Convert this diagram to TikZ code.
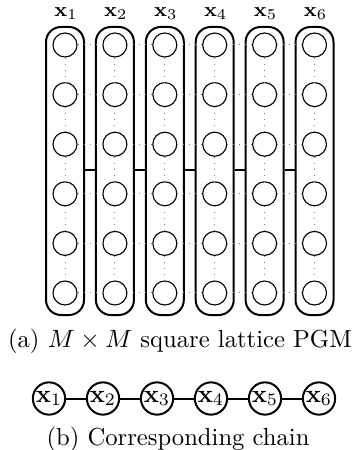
\documentclass[tikz,border=0pt]{standalone}
\begin{document}
\begin{tikzpicture}[x=0.4pt,y=-0.4pt,
  var/.style={circle,draw,line width=0.45pt,minimum size=9.6pt,inner sep=0pt},
  gridline/.style={gray,dotted,line width=0.4pt},
  colbox/.style={draw,line width=0.8pt,rounded corners=6pt,minimum width=15.2pt,minimum height=115.2pt,inner sep=0pt},
  link/.style={line width=0.8pt},
  lbl/.style={anchor=base,font=\fontsize{8}{9.6}\selectfont,inner sep=0pt},
  cvar/.style={circle,draw,line width=0.8pt,minimum size=11.2pt,inner sep=0.3pt},
  captext/.style={anchor=base,inner sep=0pt,font=\fontsize{9.85}{12}\selectfont}]
\useasboundingbox (0,0) rectangle (355,450);
% columns
\foreach \i in {1,...,6}{
  \node[colbox] (c\i) at ({65+(\i-1)*49.9},171) {};
  \node[lbl] (l\i) at ({66+(\i-1)*49.9},17) {$\mathbf{x}_{\i}$};
  \foreach \j in {1,...,6}{
    \node[var] (v\i\j) at ({65+(\i-1)*49.9},{45+(\j-1)*49.6}) {};
  }
}
% dotted grid
\foreach \i [evaluate=\i as \k using int(\i+1)] in {1,...,5}{
  \foreach \j in {1,...,6}{
    \draw[gridline] (v\i\j) -- (v\k\j);
    \draw[gridline] (v\j\i) -- (v\j\k);
  }
  \draw[link] ([yshift=0.4pt]c\i.east) -- ([yshift=0.4pt]c\k.west);
}
\node[captext] (capa) at (180,347) {(a) $M\times M$ square lattice PGM};
% chain
\foreach \i in {1,...,6}{
  \node[cvar] (h\i) at ({49+(\i-1)*54},398.5) {$\mathbf{x}_{\i}$};
}
\foreach \i [evaluate=\i as \k using int(\i+1)] in {1,...,5}{
  \draw[link] (h\i) -- (h\k);
}
\node[captext] (capb) at (178,445) {(b) Corresponding chain};
\end{tikzpicture}
\end{document}
